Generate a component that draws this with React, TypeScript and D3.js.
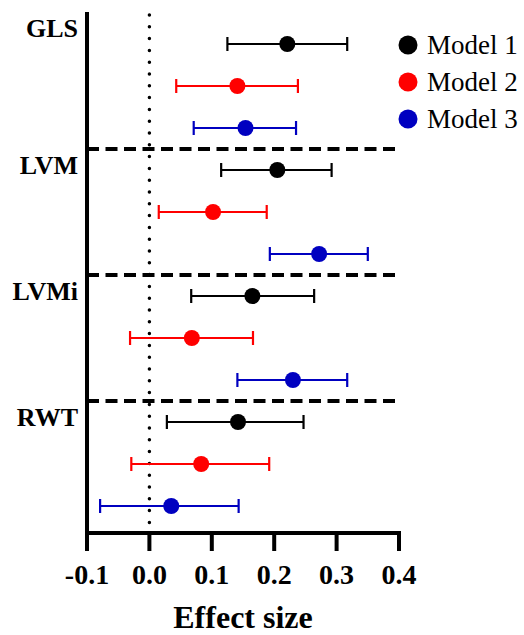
import React from "react";
import * as d3 from "d3";

// outcomes and models
const outcomes = ["GLS", "LVM", "LVMi", "RWT"];
const models = ["Model 1", "Model 2", "Model 3"];
const colors = ["#000000", "#ff0000", "#0000c0"];

// effect size estimates (rows: outcome x model)
const estimate = [
  [0.221, 0.141, 0.154],
  [0.205, 0.102, 0.272],
  [0.165, 0.068, 0.23],
  [0.142, 0.083, 0.035],
];
const lower = [
  [0.125, 0.043, 0.071],
  [0.115, 0.015, 0.193],
  [0.067, -0.031, 0.141],
  [0.028, -0.029, -0.079],
];
const upper = [
  [0.317, 0.238, 0.235],
  [0.292, 0.188, 0.35],
  [0.264, 0.166, 0.317],
  [0.247, 0.192, 0.143],
];
const xTicks = [-0.1, 0.0, 0.1, 0.2, 0.3, 0.4];

const W = 524;
const H = 635;
const serif = { fontFamily: "Liberation Serif, Times New Roman, serif" };

export default function App() {
  const x = d3.scaleLinear().domain([-0.1, 0.4]).range([87, 399]);
  const y = d3.scaleLinear().domain([0, 11]).range([44, 506]);
  const top = 12;
  const bottom = 533;

  const rows: { o: number; m: number }[] = [];
  outcomes.forEach((_, o) => models.forEach((_, m) => rows.push({ o, m })));

  // group boundaries (between last row of one outcome and first of the next)
  const bounds = outcomes.map((_, o) => (o === 0 ? top : (y(o * 3 - 1) + y(o * 3)) / 2));

  return (
    <svg width={W} height={H} style={{ position: "absolute", left: 0, top: 0, background: "#fff" }}>
      {/* zero line */}
      <line x1={x(0)} x2={x(0)} y1={top + 3} y2={bottom} stroke="#000" strokeWidth={3.5}
        strokeDasharray="0 11.8" strokeLinecap="round" />
      {/* separators */}
      {bounds.slice(1).map((b, i) => (
        <line key={i} x1={x(-0.1)} x2={x(0.4)} y1={b} y2={b} stroke="#000" strokeWidth={4}
          strokeDasharray="12 6.5" />
      ))}
      {/* outcome labels */}
      {outcomes.map((name, o) => (
        <text key={name} x={78} y={bounds[o] + 25} textAnchor="end" style={serif}
          fontWeight="bold" fontSize={26}>{name}</text>
      ))}
      {/* error bars */}
      {rows.map(({ o, m }) => {
        const yy = y(o * 3 + m);
        const c = colors[m];
        return (
          <g key={`${o}-${m}`}>
            <line x1={x(lower[o][m])} x2={x(upper[o][m])} y1={yy} y2={yy} stroke={c} strokeWidth={2} />
            <line x1={x(lower[o][m])} x2={x(lower[o][m])} y1={yy - 7} y2={yy + 7} stroke={c} strokeWidth={2.2} />
            <line x1={x(upper[o][m])} x2={x(upper[o][m])} y1={yy - 7} y2={yy + 7} stroke={c} strokeWidth={2.2} />
            <circle cx={x(estimate[o][m])} cy={yy} r={8} fill={c} />
          </g>
        );
      })}
      {/* axes */}
      <line x1={x(-0.1)} x2={x(-0.1)} y1={top} y2={bottom + 2} stroke="#000" strokeWidth={4} />
      <line x1={x(-0.1) - 2} x2={x(0.4) + 2} y1={bottom} y2={bottom} stroke="#000" strokeWidth={4} />
      {xTicks.map((t) => (
        <g key={t}>
          <line x1={x(t)} x2={x(t)} y1={bottom} y2={bottom + 18} stroke="#000" strokeWidth={4} />
          <text x={x(t)} y={584} textAnchor="middle" style={serif} fontWeight="bold" fontSize={28}>
            {d3.format(".1f")(t).replace("−", "-")}
          </text>
        </g>
      ))}
      <text x={x(0.15)} y={628} textAnchor="middle" style={serif} fontWeight="bold" fontSize={32}>
        Effect size
      </text>
      {/* legend */}
      {models.map((mName, m) => (
        <g key={mName}>
          <circle cx={408} cy={45 + m * 37} r={9.5} fill={colors[m]} />
          <text x={427} y={54 + m * 37} style={serif} fontSize={27}>{mName}</text>
        </g>
      ))}
    </svg>
  );
}
